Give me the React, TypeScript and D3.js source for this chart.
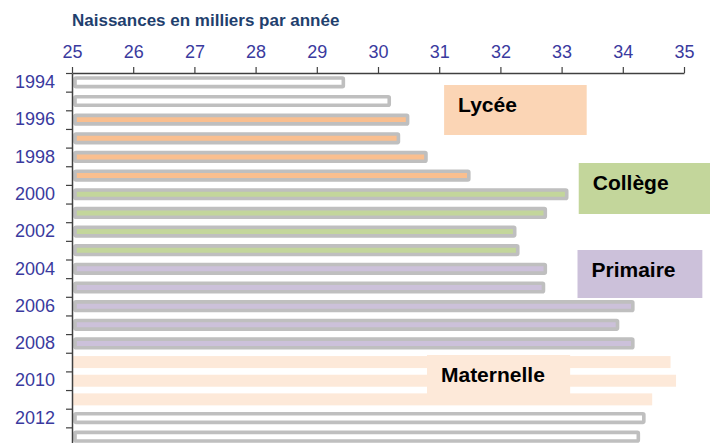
import React, { useEffect, useRef } from "react";
import * as d3 from "d3";

// data
const years = [
  1994, 1995, 1996, 1997, 1998, 1999, 2000, 2001, 2002, 2003,
  2004, 2005, 2006, 2007, 2008, 2009, 2010, 2011, 2012, 2013,
];
const births = [
  29.45, 30.2, 30.5, 30.35, 30.8, 31.5, 33.1, 32.75, 32.25, 32.3,
  32.75, 32.72, 34.18, 33.93, 34.18, 34.78, 34.87, 34.48, 34.36, 34.27,
];
// school level each birth year belongs to ("" = none)
const levels = [
  "", "", "lycee", "lycee", "lycee", "lycee", "college", "college", "college", "college",
  "primaire", "primaire", "primaire", "primaire", "primaire", "maternelle", "maternelle", "maternelle", "", "",
];
const xTicks = [25, 26, 27, 28, 29, 30, 31, 32, 33, 34, 35];
const yLabels = [1994, 1996, 1998, 2000, 2002, 2004, 2006, 2008, 2010, 2012];

const levelFill: Record<string, string> = {
  "": "#ffffff",
  lycee: "#fabf8f",
  college: "#c3d69b",
  primaire: "#ccc1da",
  maternelle: "#fde9d9",
};

// label boxes (x in axis units, y in pixels)
const boxes = [
  { text: "Lycée", fill: "#fbd5b5", x0: 31.08, x1: 33.41, y0: 85, y1: 135, base: 112 },
  { text: "Collège", fill: "#c3d69b", x0: 33.28, x1: 35.43, y0: 163, y1: 214, base: 190 },
  { text: "Primaire", fill: "#ccc1da", x0: 33.26, x1: 35.3, y0: 250, y1: 298, base: 277 },
  { text: "Maternelle", fill: "#fde9d9", x0: 30.8, x1: 33.14, y0: 355, y1: 395, base: 382 },
];

const App = () => {
  const ref = useRef<SVGSVGElement>(null);

  useEffect(() => {
    const svg = d3.select(ref.current);
    svg.selectAll("*").remove();

    const x = d3.scaleLinear().domain([25, 35]).range([72, 684]);
    const y = d3
      .scaleBand<number>()
      .domain(years)
      .range([73, 73 + 18.65 * years.length])
      .paddingInner(0)
      .paddingOuter(0);

    const font = "Arial, 'Liberation Sans', sans-serif";

    // title
    svg
      .append("text")
      .attr("x", 72)
      .attr("y", 26)
      .attr("font-family", font)
      .attr("font-size", 17)
      .attr("font-weight", "bold")
      .attr("fill", "#1f3f6e")
      .text("Naissances en milliers par année");

    // bars
    const g = svg.append("g");
    years.forEach((yr, i) => {
      const lv = levels[i];
      const cy = (y(yr) as number) + y.bandwidth() / 2;
      if (lv === "maternelle") {
        g.append("rect")
          .attr("x", x(25) + 1)
          .attr("y", cy - 6)
          .attr("width", x(births[i]) - x(25) - 1)
          .attr("height", 12)
          .attr("fill", levelFill[lv]);
      } else {
        g.append("rect")
          .attr("x", x(25) + 3)
          .attr("y", cy - 4.3)
          .attr("width", x(births[i]) - x(25) - 4)
          .attr("height", 8.6)
          .attr("rx", 1)
          .attr("fill", levelFill[lv])
          .attr("stroke", "#bfbfbf")
          .attr("stroke-width", 3.6);
      }
    });

    // label boxes
    boxes.forEach((b) => {
      svg
        .append("rect")
        .attr("x", x(b.x0))
        .attr("y", b.y0)
        .attr("width", x(b.x1) - x(b.x0))
        .attr("height", b.y1 - b.y0)
        .attr("fill", b.fill);
      svg
        .append("text")
        .attr("x", x(b.x0) + 14)
        .attr("y", b.base)
        .attr("font-family", font)
        .attr("font-size", 21)
        .attr("font-weight", "bold")
        .attr("fill", "#000")
        .text(b.text);
    });

    // top axis
    const xAxis = svg
      .append("g")
      .attr("transform", "translate(0,73)")
      .call(d3.axisTop(x).tickValues(xTicks).tickSize(6).tickSizeOuter(0).tickPadding(9));
    xAxis.select(".domain").attr("stroke", "#404040").attr("stroke-width", 1.5);
    xAxis.selectAll(".tick line").attr("stroke", "#404040").attr("stroke-width", 1.2);
    xAxis
      .selectAll(".tick text")
      .attr("font-family", font)
      .attr("font-size", 18)
      .attr("fill", "#3a3a9e");

    // left axis: boundary ticks
    const yIdx = d3.scaleLinear().domain([0, years.length]).range(y.range());
    const yTickAxis = svg
      .append("g")
      .attr("transform", "translate(72,0)")
      .call(
        d3
          .axisLeft(yIdx)
          .tickValues(d3.range(0, years.length + 1))
          .tickSize(6)
          .tickSizeOuter(0)
          .tickFormat(() => "")
      );
    yTickAxis.select(".domain").attr("stroke", "#404040").attr("stroke-width", 1.5);
    yTickAxis.selectAll(".tick line").attr("stroke", "#404040").attr("stroke-width", 1.2);

    // left axis: year labels
    const yLabelAxis = svg
      .append("g")
      .attr("transform", "translate(72,0)")
      .call(d3.axisLeft(y).tickValues(yLabels).tickSize(0).tickPadding(17));
    yLabelAxis.select(".domain").remove();
    yLabelAxis
      .selectAll(".tick text")
      .attr("font-family", font)
      .attr("font-size", 18)
      .attr("fill", "#3a3a9e");
  }, []);

  return (
    <svg
      ref={ref}
      width={710}
      height={443}
      style={{ position: "absolute", left: 0, top: 0, background: "#fff" }}
    />
  );
};

export default App;
